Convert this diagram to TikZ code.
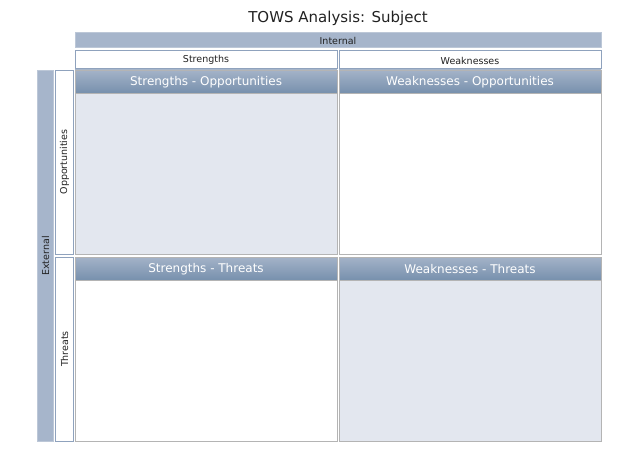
\documentclass[tikz,border=0pt]{standalone}
\usepackage{fontspec}
\setmainfont{DejaVu Sans}
\definecolor{barfill}{HTML}{A6B5CB}
\definecolor{barline}{HTML}{8FA2BD}
\definecolor{hdrtop}{HTML}{A4B3C8}
\definecolor{hdrbot}{HTML}{7790AD}
\definecolor{bodyfill}{HTML}{E3E7EF}
\definecolor{boxline}{HTML}{B4B4B4}
\definecolor{txt}{HTML}{222222}
\tikzset{
  x=1pt, y=-1pt,
  bar/.style={fill=barfill, draw=barline!60, line width=0.6pt},
  sub/.style={fill=white, draw=barline, line width=0.8pt},
  quad/.style={draw=boxline, line width=0.8pt},
  hdr/.style={top color=hdrtop, bottom color=hdrbot, draw=boxline, line width=0.6pt},
  lbl/.style={font=\fontsize{9.5}{11}\selectfont, text=txt, inner sep=0pt},
  qlbl/.style={font=\fontsize{12}{14}\selectfont, text=white, inner sep=0pt},
}
\begin{document}
\begin{tikzpicture}
\useasboundingbox (0,0) rectangle (640,452);
\node[font=\fontsize{15}{17}\selectfont, text=txt] (title) at (338,18) {TOWS Analysis: Subject};
% Internal bar
\draw[bar] (75,32) rectangle (601,47);
\node[lbl] (internal) at (338,40.5) {Internal};
\draw[sub] (75,50) rectangle (337,68);
\node[lbl] (strengths) at (206,60) {Strengths};
\draw[sub] (339,50) rectangle (601,68);
\node[lbl] (weaknesses) at (470,61) {Weaknesses};
% External bar
\draw[bar] (37,70) rectangle (53,441);
\node[lbl, rotate=90] (external) at (45.5,256) {External};
\draw[sub] (55,70) rectangle (73,254);
\node[lbl, rotate=90] (opps) at (64.5,162) {Opportunities};
\draw[sub] (55,257) rectangle (73,441);
\node[lbl, rotate=90] (threats) at (64.5,349) {Threats};
% quadrants
\draw[quad, fill=bodyfill] (75,70) rectangle (337,254);
\draw[hdr] (75,70) rectangle (337,93);
\node[qlbl] (so) at (206,82) {Strengths - Opportunities};
\draw[quad, fill=white] (339,70) rectangle (601,254);
\draw[hdr] (339,70) rectangle (601,93);
\node[qlbl] (wo) at (470,82) {Weaknesses - Opportunities};
\draw[quad, fill=white] (75,257) rectangle (337,441);
\draw[hdr] (75,257) rectangle (337,280);
\node[qlbl] (st) at (206,269) {Strengths - Threats};
\draw[quad, fill=bodyfill] (339,257) rectangle (601,441);
\draw[hdr] (339,257) rectangle (601,280);
\node[qlbl] (wt) at (470,269) {Weaknesses - Threats};
\end{tikzpicture}
\end{document}
